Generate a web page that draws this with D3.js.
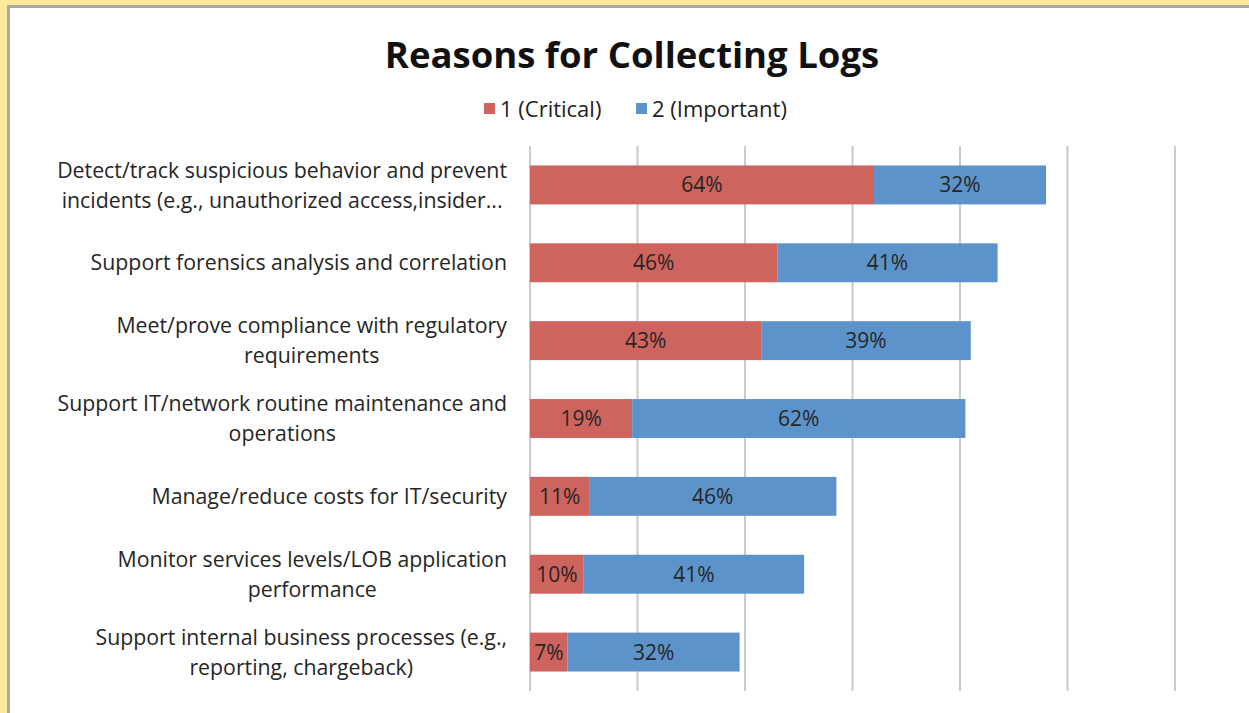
<!DOCTYPE html>
<html>
<head>
<meta charset="utf-8">
<script src="https://cdn.jsdelivr.net/npm/d3@7"></script>
<style>
  html, body { margin: 0; padding: 0; background: #fff; }
  svg { display: block; }
</style>
</head>
<body>
<svg id="chart" width="1249" height="713"></svg>
<script>
// ---- data ----
const categories = [
  "Detect/track suspicious behavior and prevent|incidents (e.g., unauthorized access,insider...",
  "Support forensics analysis and correlation",
  "Meet/prove compliance with regulatory|requirements",
  "Support IT/network routine maintenance and|operations",
  "Manage/reduce costs for IT/security",
  "Monitor services levels/LOB application|performance",
  "Support internal business processes (e.g.,|reporting, chargeback)"
];
const critical = [64, 46, 43, 19, 11, 10, 7];
const important = [32, 41, 39, 62, 46, 41, 32];
const seriesNames = ["1 (Critical)", "2 (Important)"];
const xTicks = [0, 20, 40, 60, 80, 100, 120];
const title = "Reasons for Collecting Logs";

// ---- layout ----
const W = 1249, H = 713;
const colors = ["#CF635D", "#5D93CB"];
const font = "'Open Sans', Lato, sans-serif";
const svg = d3.select("#chart");

// frame
svg.append("rect").attr("x", 0).attr("y", 0).attr("width", W).attr("height", H).attr("fill", "#FDE99C");
svg.append("rect").attr("x", 7).attr("y", 5).attr("width", W - 7).attr("height", H - 5).attr("fill", "#A8A8A8");
svg.append("rect").attr("x", 10).attr("y", 8).attr("width", W - 10).attr("height", H - 8).attr("fill", "#FFFFFF");

const x = d3.scaleLinear().domain([0, 120]).range([530, 1175]);
const y = d3.scaleBand().domain(categories).range([146, 691]).paddingInner(0.5).paddingOuter(0.25);

// gridlines
svg.append("g").selectAll("line").data(xTicks).join("line")
  .attr("x1", d => x(d)).attr("x2", d => x(d))
  .attr("y1", 146).attr("y2", 691)
  .attr("stroke", "#CACACA").attr("stroke-width", 2);

// title
svg.append("text").attr("x", 632).attr("y", 68).attr("text-anchor", "middle")
  .attr("font-family", font).attr("font-weight", "bold").attr("font-size", 36.5)
  .attr("fill", "#111").text(title);

// legend
const legend = svg.append("g");
const legX = [484, 636];
seriesNames.forEach((n, i) => {
  legend.append("rect").attr("x", legX[i]).attr("y", 103).attr("width", 11).attr("height", 11).attr("fill", colors[i]);
  legend.append("text").attr("x", legX[i] + 16).attr("y", 117)
    .attr("font-family", font).attr("font-size", 22).attr("fill", "#222").text(n);
});

// bars
const stacked = categories.map((c, i) => ({ c, parts: [
  { s: 0, x0: 0, x1: critical[i], v: critical[i] },
  { s: 1, x0: critical[i], x1: critical[i] + important[i], v: important[i] }
]}));

const rows = svg.append("g").selectAll("g").data(stacked).join("g");
rows.selectAll("rect").data(d => d.parts.map(p => ({ ...p, c: d.c }))).join("rect")
  .attr("x", p => x(p.x0)).attr("width", p => x(p.x1) - x(p.x0))
  .attr("y", p => y(p.c)).attr("height", y.bandwidth())
  .attr("fill", p => colors[p.s]);
rows.selectAll("text").data(d => d.parts.map(p => ({ ...p, c: d.c }))).join("text")
  .attr("x", p => (x(p.x0) + x(p.x1)) / 2)
  .attr("y", p => y(p.c) + y.bandwidth() / 2)
  .attr("dy", "0.36em").attr("text-anchor", "middle")
  .attr("font-family", font).attr("font-size", 21).attr("fill", "#262626")
  .text(p => p.v + "%");

// category labels
const labels = svg.append("g").selectAll("text").data(categories).join("text")
  .attr("text-anchor", "end")
  .attr("font-family", font).attr("font-size", 21.3).attr("fill", "#262626");
labels.each(function(c) {
  const lines = c.split("|");
  const cy = y(c) + y.bandwidth() / 2;
  const lh = 30;
  const t = d3.select(this);
  lines.forEach((ln, k) => {
    const off = (k - (lines.length - 1) / 2) * lh;
    t.append("tspan").attr("x", 507).attr("y", cy + off).attr("dy", "0.36em").text(ln);
  });
});
// wrapped lines are centered on each other, widest line right-aligned at 507
labels.each(function() {
  const spans = d3.select(this).selectAll("tspan").nodes();
  if (spans.length < 2) return;
  const widths = spans.map(s => s.getComputedTextLength());
  const maxW = Math.max(...widths);
  const center = 507 - maxW / 2;
  spans.forEach((s, k) => {
    d3.select(s).attr("x", center + widths[k] / 2);
  });
});
</script>
</body>
</html>
